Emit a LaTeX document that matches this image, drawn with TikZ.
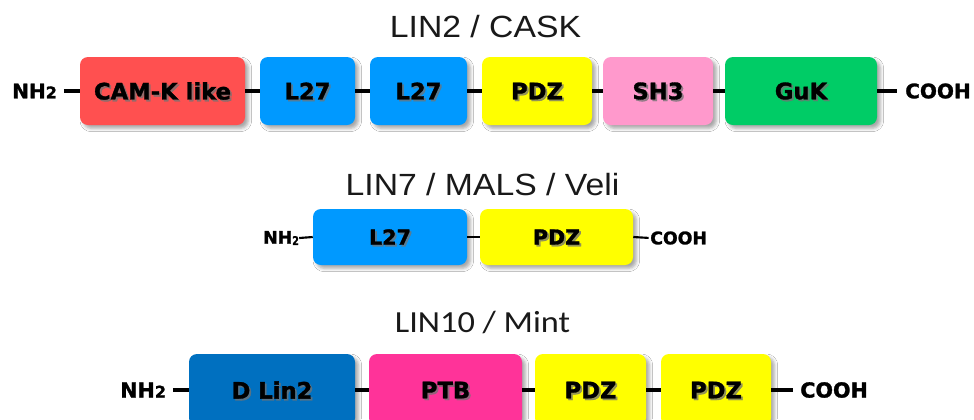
\documentclass[tikz,border=0pt]{standalone}
\usepackage{fontspec}
\usepackage{graphicx}
\setmainfont{Liberation Sans}
\newfontfamily\calfont{Carlito}
\newfontfamily\domfont{DejaVu Sans}[BoldFeatures={FakeBold=1.4}]
\usetikzlibrary{shadows.blur}

\definecolor{camk}{RGB}{255,80,80}
\definecolor{lblue}{RGB}{0,153,255}
\definecolor{pdzy}{RGB}{255,255,0}
\definecolor{shpink}{RGB}{255,153,204}
\definecolor{gukg}{RGB}{0,204,102}
\definecolor{dblue}{RGB}{0,112,192}
\definecolor{ptbpink}{RGB}{255,51,153}

\tikzset{
  x=0.75pt, y=-0.75pt,
  dombox/.style={draw=none, rounded corners=6pt, inner sep=0pt,
    blur shadow={shadow xshift=2.5pt, shadow yshift=-2.5pt,
                 shadow blur radius=2.5pt, shadow opacity=35}},
  domtext/.style={inner sep=0pt, text=black},
  endtext/.style={inner sep=0pt, font=\domfont\bfseries\fontsize{#1}{#1}\selectfont},
  link/.style={line width=3pt},
  thinlink/.style={line width=1.6pt},
  title/.style={inner sep=0pt, anchor=base, text=black!90},
}

% domain box: name, left, right, top, bottom, fill colour, font size, label
\newcommand\domain[8]{%
  \node[dombox, fill=#6, minimum width={(#3-#2)*0.75pt},
        minimum height={(#5-#4)*0.75pt}] (#1) at ({(#2+#3)/2},{(#4+#5)/2}) {};
  \node[domtext, text=black!55, opacity=0.75,
        font=\domfont\bfseries\fontsize{#7}{#7}\selectfont]
        (#1-sh) at ([shift={(1.8,1.8)}]#1.center) {#8};
  \node[domtext, font=\domfont\bfseries\fontsize{#7}{#7}\selectfont]
        (#1-t) at (#1.center) {#8};
}

\begin{document}
\begin{tikzpicture}
\fill[white] (0,0) rectangle (974,419);
\useasboundingbox (0,0) rectangle (974,419);

% ---------- LIN2 / CASK ----------
\node[title, font=\fontsize{23}{23}\selectfont] (t1) at (485.5,37) {\scalebox{1.1}[1]{LIN2 / CASK}};
\domain{camk}{80}{245}{57}{125}{camk}{17}{CAM-K like}
\domain{l27a}{260}{355}{57}{125}{lblue}{17}{L27}
\domain{l27b}{370}{467}{57}{125}{lblue}{17}{L27}
\domain{pdza}{482}{592}{57}{125}{pdzy}{17}{PDZ}
\domain{sh3}{603}{713}{57}{125}{shpink}{17}{SH3}
\domain{guk}{725}{877}{57}{125}{gukg}{17}{GuK}
\node[endtext=15, anchor=west] (n1) at (12,91) {NH{\fontsize{12}{12}\selectfont 2}};
\node[endtext=15, anchor=west] (c1) at (905,91) {COOH};
\draw[link, shorten <=5pt] (n1.east) -- (camk.west);
\draw[link] (camk.east) -- (l27a.west);
\draw[link] (l27a.east) -- (l27b.west);
\draw[link] (l27b.east) -- (pdza.west);
\draw[link] (pdza.east) -- (sh3.west);
\draw[link] (sh3.east) -- (guk.west);
\draw[link, shorten >=6pt] (guk.east) -- (c1.west);

% ---------- LIN7 / MALS / Veli ----------
\node[title, font=\fontsize{23}{23}\selectfont] (t2) at (482.5,195) {\scalebox{1.1}[1]{LIN7 / MALS / Veli}};
\domain{l27c}{313}{467}{209}{265}{lblue}{15.5}{L27}
\domain{pdzb}{480}{633}{209}{265}{pdzy}{15.5}{PDZ}
\node[endtext=13, anchor=west] (n2) at (263,238) {NH\raisebox{-1pt}{\fontsize{9}{9}\selectfont\scalebox{0.8}[1]{2}}};
\node[endtext=13, anchor=west] (c2) at (650,238) {COOH};
\draw[thinlink] (n2.east) -- (l27c.west);
\draw[thinlink] (l27c.east) -- (pdzb.west);
\draw[thinlink, shorten >=1pt] (pdzb.east) -- (c2.west);

% ---------- LIN10 / Mint ----------
\node[title, font=\calfont\fontsize{23}{23}\selectfont] (t3) at (482.5,332) {\scalebox{1.12}[1]{LIN10 / Mint}};
\domain{dlin}{189}{355}{354}{426}{dblue}{17}{D Lin2}
\domain{ptb}{369}{522}{354}{426}{ptbpink}{17}{PTB}
\domain{pdzc}{535}{646}{354}{426}{pdzy}{17}{PDZ}
\domain{pdzd}{661}{771}{354}{426}{pdzy}{17}{PDZ}
\node[endtext=15.5, anchor=west] (n3) at (120,390) {NH{\fontsize{12}{12}\selectfont 2}};
\node[endtext=15.5, anchor=west] (c3) at (800,390) {COOH};
\draw[link, shorten <=5pt] (n3.east) -- (dlin.west);
\draw[link] (dlin.east) -- (ptb.west);
\draw[link] (ptb.east) -- (pdzc.west);
\draw[link] (pdzc.east) -- (pdzd.west);
\draw[link, shorten >=5pt] (pdzd.east) -- (c3.west);
\end{tikzpicture}
\end{document}
